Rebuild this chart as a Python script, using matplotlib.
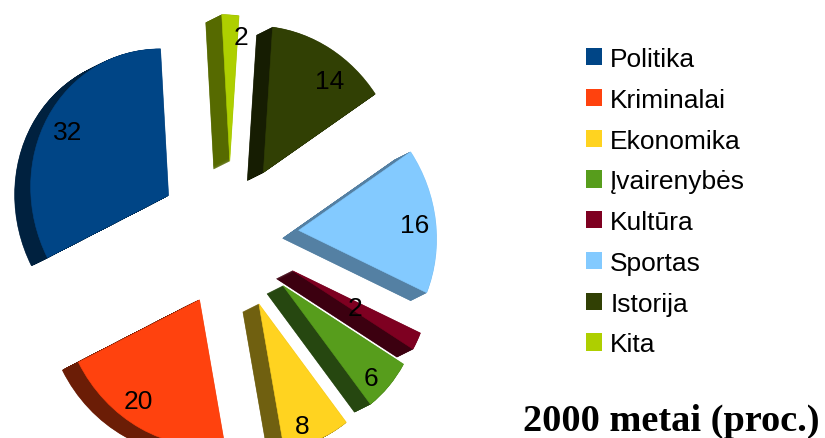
import matplotlib
matplotlib.use("Agg")
import matplotlib.pyplot as plt
from matplotlib.patches import Patch
from matplotlib.transforms import Affine2D

categories = ["Politika", "Kriminalai", "Ekonomika", "Įvairenybės", "Kultūra", "Sportas", "Istorija", "Kita"]
values = [32, 20, 8, 6, 2, 16, 14, 2]
title = "2000 metai (proc.)"

top_colors = ["#004586", "#ff420e", "#ffd320", "#579d1c", "#7e0021", "#83caff", "#314004", "#aecf00"]
side_colors = ["#00213f", "#6b1d06", "#706010", "#264710", "#3c0010", "#5480a3", "#161d02", "#566a00"]
label_xy = [(68, 133), (138, 402), (302, 427), (371, 379), (355, 309), (415, 226), (330, 82), (241, 38)]

W, H = 825, 439
cx, cy = 229.5, H - 236
R = 146.5
EXPLODE = 74
SX, SHEAR = 0.94, -0.055
DX, DY = -16, -8
LAYERS = 32

plt.rcParams["font.family"] = ["Liberation Sans", "DejaVu Sans"]
fig = plt.figure(figsize=(W / 100, H / 100), dpi=100)
ax = fig.add_axes([0, 0, 1, 1])
ax.set_xlim(0, W)
ax.set_ylim(0, H)


def draw_pie(colors, shift_x=0.0, shift_y=0.0):
    wedges, _ = ax.pie(values, explode=[EXPLODE] * len(values), startangle=90, radius=R,
                       colors=colors, center=(cx, cy), frame=False)
    tilt = (Affine2D().translate(-cx, -cy)
            + Affine2D.from_values(SX, 0, SHEAR, 1, 0, 0)
            + Affine2D().translate(cx + shift_x, cy + shift_y))
    for w in wedges:
        w.set_transform(tilt + ax.transData)
        w.set_edgecolor(w.get_facecolor())
        w.set_linewidth(0.4)


for i in range(LAYERS, 0, -1):
    f = i / LAYERS
    draw_pie(side_colors, DX * f, DY * f)
draw_pie(top_colors)

ax.set_aspect("auto")
ax.set_xlim(0, W)
ax.set_ylim(0, H)
ax.axis("off")

for v, (x, y) in zip(values, label_xy):
    ax.text(x, H - y, str(v), ha="center", va="center", fontsize=19, color="black")

handles = [Patch(facecolor=c, edgecolor="none", label=n) for c, n in zip(top_colors, categories)]
fig.legend(handles=handles, loc="upper left", bbox_to_anchor=(586 / W, 1 - 48 / H), frameon=False,
           fontsize=19, handlelength=0.62, handleheight=0.62, handletextpad=0.3,
           labelspacing=0.635, borderpad=0, borderaxespad=0)

ax.text(523, H - 421, title, ha="left", va="center", fontsize=27.6, fontweight="bold",
        family="Liberation Serif", color="black")

fig.savefig("out.png", dpi=100)
